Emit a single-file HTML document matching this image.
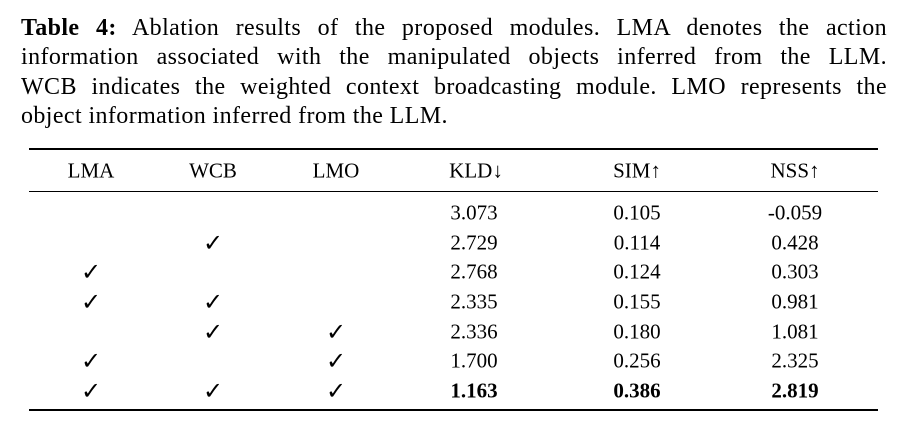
<!DOCTYPE html>
<html><head><style>
body{margin:0;width:909px;height:434px;background:#fff;position:relative;font-family:"Liberation Serif",serif;color:#000;overflow:hidden}
.cap{position:absolute;left:21px;top:14px;width:866px;font-family:"Liberation Serif",serif;font-size:24px;line-height:29.4px;letter-spacing:0.4px}
.cap div{text-align:justify;text-align-last:justify;white-space:nowrap}
.cap div.l{text-align-last:left}
.r{position:absolute;background:#000;left:29px;width:849px}
.c{position:absolute;transform:translate(-50%,-50%);font-size:21px;white-space:nowrap}
.k{font-size:24px;font-weight:bold;font-family:"DejaVu Sans",sans-serif}
.b{font-weight:bold}
</style></head><body>
<div class="cap">
<div><b>Table 4:</b> Ablation results of the proposed modules. LMA denotes the action</div>
<div>information associated with the manipulated objects inferred from the LLM.</div>
<div>WCB indicates the weighted context broadcasting module. LMO represents the</div>
<div class="l">object information inferred from the LLM.</div>
</div>
<div class="r" style="top:148px;height:2px"></div>
<div class="r" style="top:191px;height:1px"></div>
<div class="r" style="top:409px;height:2px"></div>
<div class="c" style="left:91px;top:171px">LMA</div>
<div class="c" style="left:213px;top:171px">WCB</div>
<div class="c" style="left:336px;top:171px">LMO</div>
<div class="c" style="left:476px;top:171px">KLD↓</div>
<div class="c" style="left:637px;top:171px">SIM↑</div>
<div class="c" style="left:795px;top:171px">NSS↑</div>

<div class="c" style="left:474px;top:213px">3.073</div><div class="c" style="left:637px;top:213px">0.105</div><div class="c" style="left:795px;top:213px">-0.059</div>

<div class="c k" style="left:213px;top:243px">✓</div>
<div class="c" style="left:474px;top:243px">2.729</div><div class="c" style="left:637px;top:243px">0.114</div><div class="c" style="left:795px;top:243px">0.428</div>

<div class="c k" style="left:91px;top:272px">✓</div>
<div class="c" style="left:474px;top:272px">2.768</div><div class="c" style="left:637px;top:272px">0.124</div><div class="c" style="left:795px;top:272px">0.303</div>

<div class="c k" style="left:91px;top:302px">✓</div><div class="c k" style="left:213px;top:302px">✓</div>
<div class="c" style="left:474px;top:302px">2.335</div><div class="c" style="left:637px;top:302px">0.155</div><div class="c" style="left:795px;top:302px">0.981</div>

<div class="c k" style="left:213px;top:332px">✓</div><div class="c k" style="left:336px;top:332px">✓</div>
<div class="c" style="left:474px;top:332px">2.336</div><div class="c" style="left:637px;top:332px">0.180</div><div class="c" style="left:795px;top:332px">1.081</div>

<div class="c k" style="left:91px;top:361px">✓</div><div class="c k" style="left:336px;top:361px">✓</div>
<div class="c" style="left:474px;top:361px">1.700</div><div class="c" style="left:637px;top:361px">0.256</div><div class="c" style="left:795px;top:361px">2.325</div>

<div class="c k" style="left:91px;top:391px">✓</div><div class="c k" style="left:213px;top:391px">✓</div><div class="c k" style="left:336px;top:391px">✓</div>
<div class="c b" style="left:474px;top:391px">1.163</div><div class="c b" style="left:637px;top:391px">0.386</div><div class="c b" style="left:795px;top:391px">2.819</div>
</body></html>
